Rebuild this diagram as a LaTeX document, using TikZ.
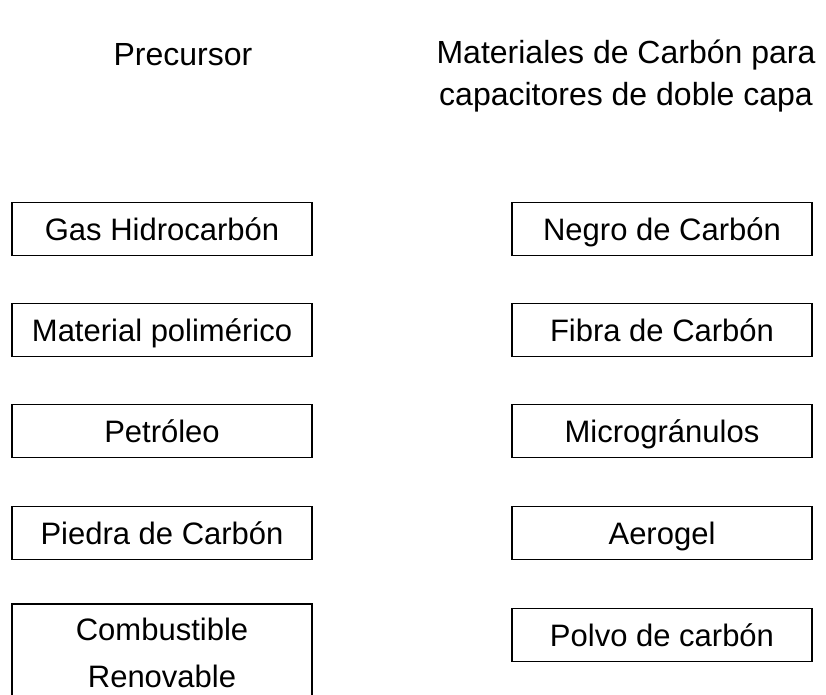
\documentclass[tikz,border=0pt]{standalone}
\usepackage{fontspec}
\setmainfont{Liberation Sans}
\usetikzlibrary{positioning}

\begin{document}
\begin{tikzpicture}[x=1pt,y=-1pt,
                       txt/.style={font=\fontsize{32}{42}\selectfont,align=center,inner sep=0pt},
                       box node/.style={draw,line width=1.2pt,font=\fontsize{31}{47}\selectfont,
                                        align=center,minimum width=300pt,minimum height=53pt,
                                        inner sep=2pt,text height=22pt,text depth=0pt},
                       tall node/.style={box node,text height=,text depth=,minimum height=98pt}
                      ]
   \useasboundingbox (0,0) rectangle (826,694);
   \clip (0,0) rectangle (826,694);
   % headers
   \node[txt] (prec) at (183,55) {Precursor};
   \node[txt] (mat) at (626,76) {Materiales de Carb\'on para\\capacitores de doble capa};
   % precursors
   \node[box node] (gas) at (162,229) {Gas Hidrocarb\'on};
   \node[box node] (poli) at (162,330) {Material polim\'erico};
   \node[box node] (petro) at (162,431) {Petr\'oleo};
   \node[box node] (piedra) at (162,533) {Piedra de Carb\'on};
   \node[tall node] (comb) at (162,653) {Combustible\\Renovable};
   % carbon materials
   \node[box node] (negro) at (662,229) {Negro de Carb\'on};
   \node[box node] (fibra) at (662,330) {Fibra de Carb\'on};
   \node[box node] (micro) at (662,431) {Microgr\'anulos};
   \node[box node] (aero) at (662,533) {Aerogel};
   \node[box node] (polvo) at (662,635) {Polvo de carb\'on};
 \end{tikzpicture}
\end{document}
